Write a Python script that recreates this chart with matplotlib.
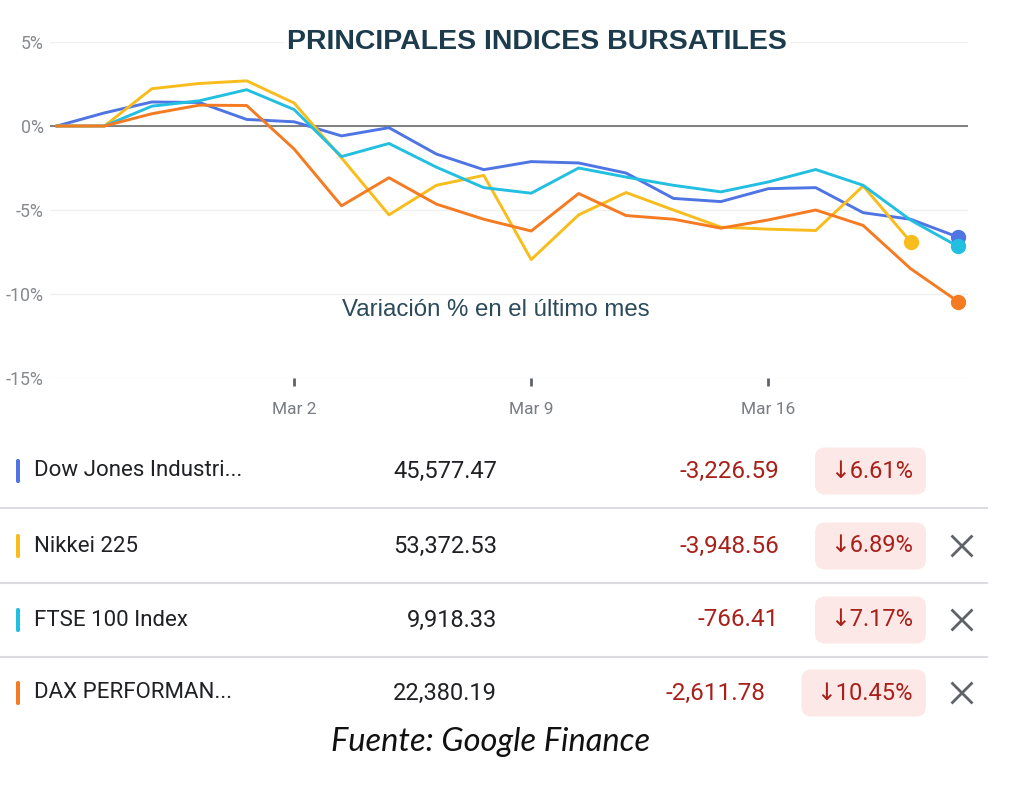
import matplotlib
matplotlib.use("Agg")
import matplotlib.pyplot as plt
from matplotlib.patches import FancyBboxPatch
import numpy as np

# ---------------- data ----------------
dates = ["Feb 23", "Feb 24", "Feb 25", "Feb 26", "Feb 27",
         "Mar 2", "Mar 3", "Mar 4", "Mar 5", "Mar 6",
         "Mar 9", "Mar 10", "Mar 11", "Mar 12", "Mar 13",
         "Mar 16", "Mar 17", "Mar 18", "Mar 19", "Mar 20"]
tick_labels = ["Mar 2", "Mar 9", "Mar 16"]

dow = [0, 0.78, 1.43, 1.40, 0.39, 0.25, -0.59, -0.10, -1.67, -2.60,
       -2.12, -2.20, -2.80, -4.31, -4.50, -3.73, -3.67, -5.16, -5.55, -6.61]
nikkei = [0, 0, 2.22, 2.53, 2.69, 1.37, -1.90, -5.29, -3.53, -2.94,
          -7.95, -5.29, -3.96, -5.00, -6.02, -6.14, -6.22, -3.57, -6.89]
ftse = [0, 0, 1.18, 1.50, 2.16, 0.98, -1.82, -1.04, -2.45, -3.67,
        -4.00, -2.50, -3.04, -3.53, -3.92, -3.33, -2.59, -3.53, -5.60, -7.17]
dax = [0, 0, 0.73, 1.24, 1.22, -1.37, -4.75, -3.08, -4.65, -5.55,
       -6.25, -4.02, -5.33, -5.55, -6.08, -5.59, -5.00, -5.92, -8.49, -10.45]

names = ["Dow Jones Industri...", "Nikkei 225", "FTSE 100 Index", "DAX PERFORMAN..."]
prices = ["45,577.47", "53,372.53", "9,918.33", "22,380.19"]
changes = ["-3,226.59", "-3,948.56", "-766.41", "-2,611.78"]
pcts = ["6.61%", "6.89%", "7.17%", "10.45%"]
removable = [False, True, True, True]

colors = ["#4f74e3", "#f8bd1c", "#22bfe0", "#f57b22"]
series = [dow, nikkei, ftse, dax]

# ---------------- figure ----------------
W, H = 1024, 795
fig = plt.figure(figsize=(W / 100, H / 100), dpi=100)
fig.patch.set_facecolor("white")

# overlay in pixel coordinates for the table and texts
ov = fig.add_axes([0, 0, 1, 1], zorder=0)
ov.set_xlim(0, W)
ov.set_ylim(H, 0)
ov.axis("off")

# top overlay (for title drawn above the chart gridlines)
top = fig.add_axes([0, 0, 1, 1], zorder=5)
top.set_xlim(0, W)
top.set_ylim(H, 0)
top.axis("off")
top.patch.set_alpha(0)

# chart axes (pixel placement)
x0_px, x1_px = 50, 968
y_top, y_bot = 42, 378
ax = fig.add_axes([x0_px / W, 1 - y_bot / H, (x1_px - x0_px) / W, (y_bot - y_top) / H], zorder=2)
ax.patch.set_alpha(0)
step = 47.42
ax.set_xlim(-(57 - x0_px) / step, 19 + (x1_px - 958) / step)
ax.set_ylim(-15, 5)

for s in ax.spines.values():
    s.set_visible(False)
ax.set_yticks([5, 0, -5, -10, -15])
ax.set_yticklabels(["5%", "0%", "-5%", "-10%", "-15%"])
ax.grid(axis="y", color="#f0f0f0", lw=1.0)
ax.set_axisbelow(True)
ax.axhline(0, color="#6b6b6b", lw=1.2, zorder=1)
ax.tick_params(axis="y", length=0, pad=4.5, labelsize=12.8, labelcolor="#86898d")

xpos = [dates.index(t) for t in tick_labels]
ax.set_xticks(xpos)
ax.set_xticklabels(tick_labels)
ax.tick_params(axis="x", length=6, width=2, color="#5f6368", pad=11,
               labelsize=12.5, labelcolor="#797d82", direction="out")

x_all = np.arange(len(dates))
for vals, c in zip(series, colors):
    xs = x_all[:len(vals)]
    ax.plot(xs, vals, color=c, lw=2.1, solid_joinstyle="round", zorder=3)
    ax.plot(xs[-1], vals[-1], "o", color=c, ms=10, zorder=4)

for lab in ax.get_yticklabels() + ax.get_xticklabels():
    lab.set_family(["Roboto", "DejaVu Sans"])

# titles
top.text(537, 42, "PRINCIPALES INDICES BURSATILES", ha="center", va="center",
         fontsize=20.5, fontweight="bold", color="#1c3b4c", family="Liberation Sans",
         bbox=dict(fc="white", ec="none", pad=2))
top.text(496, 310, "Variación % en el último mes", ha="center", va="center",
         fontsize=17.3, color="#2b4a5a", family="Liberation Sans")

# ---------------- table ----------------
row_y = [471, 546, 620, 693]
sep_y = [508, 583, 657]
for y in sep_y:
    ov.plot([0, 987], [y, y], color="#dadce0", lw=1.5, zorder=1)

fig.canvas.draw()
renderer = fig.canvas.get_renderer()
tfont = ["Roboto", "DejaVu Sans"]
red = "#a8201a"

for i, y in enumerate(row_y):
    ov.add_patch(FancyBboxPatch((16, y - 12), 4, 24, boxstyle="round,pad=0,rounding_size=1.8",
                                fc=colors[i], ec="none", zorder=3))
    ov.text(34, y, names[i], ha="left", va="center", fontsize=16, color="#202124",
            family=tfont, zorder=5)
    ov.text(497, y, prices[i], ha="right", va="center", fontsize=17, color="#202124",
            family=tfont, zorder=5)
    # badge
    bt = ov.text(913, y, "\u2193" + pcts[i], ha="right", va="center", fontsize=17,
                 color=red, family=tfont, zorder=5)
    bb = bt.get_window_extent(renderer=renderer)
    wpx = bb.width
    left = 913 - wpx - 15
    ov.add_patch(FancyBboxPatch((left, y - 23.5), 926 - left, 47,
                                boxstyle="round,pad=0,rounding_size=10",
                                fc="#fce8e6", ec="none", zorder=2))
    ov.text(left - 36, y, changes[i], ha="right", va="center", fontsize=17.5,
            color=red, family=tfont, zorder=5)
    if removable[i]:
        d = 9.5
        ov.plot([962 - d, 962 + d], [y - d, y + d], color="#5f6368", lw=2, zorder=5)
        ov.plot([962 - d, 962 + d], [y + d, y - d], color="#5f6368", lw=2, zorder=5)

ov.text(491, 742, "Fuente: Google Finance", ha="center", va="center", fontsize=23.5,
        style="italic", color="#111111", family="Lato", zorder=5)

fig.savefig("out.png", dpi=100, facecolor="white")
